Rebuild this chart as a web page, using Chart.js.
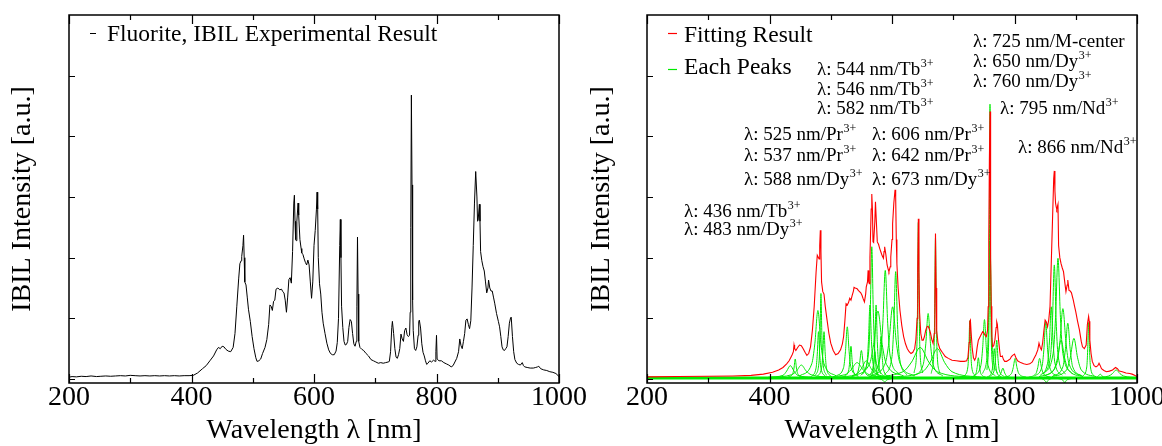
<!DOCTYPE html>
<html>
<head>
<meta charset="utf-8">
<script src="https://cdn.jsdelivr.net/npm/chart.js@4.4.1/dist/chart.umd.min.js"></script>
<style>
  body { margin: 0; background: #fff; width: 1162px; height: 446px; overflow: hidden; position: relative; }
  canvas { position: absolute; top: 0; display: block; }
  #left { left: 0; }
  #right { left: 581px; }
</style>
</head>
<body>
<canvas id="left" width="620" height="446"></canvas>
<canvas id="right" width="620" height="446"></canvas>
<script>
const SERIF = "'Liberation Serif', 'Times New Roman', serif";

// ---- data (wavelength nm, intensity a.u.) ----
const expWl = [200,205,212,220,228,236,245,252,260,268,276,284,292,300,308,316,324,332,340,348,356,364,372,380,388,396,403,
  410,418,424,430,436,441,444,447,450,453,456,460,464,468,471,474,477,479,481,482,484,485,486,487,489,491,493,496,499,502,505,507,
  510,513,516,520,523,526,528,530,532,534,536,538,541,544,547,549,551,553,555,557,559,561,563,565,567,568,569,570,571,572,574,575,
  577,579,580,582,584,586,588,590,592,594,596,598,600,602,604,605,606,607,609,611,613,615,618,621,624,627,630,633,636,638,640,642,
  643,644,645,647,649,651,653,655,657,659,661,663,665,667,669,670,671,672,673,675,678,681,685,689,693,697,701,705,709,713,717,721,
  723,725,727,728,730,732,734,736,738,740,742,744,746,748,750,752,754,756,757,758,759,760,761,762,764,766,768,770,771,772,774,776,
  778,780,782,784,786,789,792,795,798,799,800,801,804,808,812,816,820,824,827,830,833,836,838,840,842,844,846,848,850,852,854,856,
  858,860,862,864,866,867,868,870,871,872,874,876,878,880,882,884,885,887,889,891,893,895,898,901,903,905,907,909,911,913,915,917,
  919,921,922,924,926,928,931,934,937,940,942,944,948,953,958,962,965,967,970,975,980,985,990,995,1000];
const expInt = [0.03,0.04,0.035,0.045,0.04,0.05,0.04,0.045,0.05,0.045,0.05,0.055,0.05,0.06,0.055,0.05,0.055,0.05,0.055,0.05,0.055,0.05,0.055,0.05,0.055,0.055,0.06,
  0.1,0.17,0.22,0.3,0.38,0.48,0.52,0.5,0.54,0.53,0.49,0.46,0.45,0.52,0.75,1.2,1.65,1.9,1.95,2.02,2.2,2.37,2.0,1.6,1.55,1.35,1.15,0.95,0.7,0.5,0.35,0.29,
  0.3,0.33,0.42,0.52,0.65,0.9,1.22,1.2,1.13,1.28,1.3,1.48,1.5,1.47,1.48,1.44,1.42,1.3,1.1,1.35,1.64,1.67,1.58,2.1,2.9,3.03,2.6,2.3,2.28,2.6,2.9,2.7,
  2.3,2.15,2.08,2.05,1.98,1.92,1.88,1.96,1.88,1.6,1.33,1.6,2.2,2.45,2.8,3.08,2.8,2.0,1.57,1.4,1.1,0.92,0.75,0.59,0.48,0.42,0.4,0.4,0.46,0.6,1.0,2.2,
  2.63,2.0,1.2,0.85,0.62,0.56,0.57,0.62,0.85,0.98,0.95,0.75,0.58,0.54,0.62,1.2,2.34,1.4,0.62,0.52,0.49,0.47,0.42,0.38,0.32,0.3,0.28,0.26,0.27,0.26,0.27,0.28,
  0.29,0.45,0.85,0.95,0.75,0.5,0.36,0.34,0.4,0.5,0.74,0.66,0.62,0.8,0.84,0.73,0.7,0.72,1.1,2.5,4.68,3.2,1.3,0.8,0.5,0.47,0.53,0.72,0.95,0.97,0.84,0.58,
  0.44,0.38,0.3,0.24,0.26,0.3,0.28,0.31,0.29,0.45,0.72,0.33,0.3,0.3,0.27,0.25,0.23,0.2,0.22,0.28,0.34,0.45,0.66,0.55,0.5,0.62,0.75,0.97,0.99,0.9,0.83,0.96,
  1.5,2.2,2.9,3.42,3.0,2.6,2.62,2.88,2.6,2.1,1.95,1.85,1.78,1.6,1.42,1.5,1.63,1.5,1.45,1.45,1.35,1.25,1.08,0.95,0.86,0.7,0.53,0.48,0.47,0.5,0.53,0.7,
  0.92,1.01,1.02,0.7,0.45,0.32,0.26,0.24,0.23,0.27,0.22,0.2,0.19,0.18,0.18,0.19,0.2,0.21,0.17,0.15,0.14,0.12,0.11,0.09,0.04];

const fitWl = [200,250,300,340,370,390,405,415,422,428,432,435,437,439,440,441,443,446,449,452,455,458,461,464,467,470,473,476,478,480,481,482,483,484,485,
  487,489,491,494,497,500,504,508,512,516,519,521,523,525,527,529,531,533,535,537,538,540,543,545,547,549,551,553,555,557,558,560,561,562,563,564,566,567,568,
  569,570,572,573,574,576,578,580,582,584,586,587,588,590,592,594,595,597,598,600,601,603,605,606,607,608,610,613,616,619,622,625,628,631,634,637,639,641,642,
  643,644,645,647,649,651,653,655,657,659,661,663,665,667,669,670,671,672,673,675,678,682,687,692,698,705,712,718,722,724,726,727,728,729,731,733,735,737,739,
  741,743,745,748,750,752,754,756,757,758,759,760,761,762,763,764,766,768,770,771,772,774,776,777,779,780,782,784,787,790,793,795,797,800,802,805,810,815,820,
  825,829,832,835,838,840,842,844,846,848,850,852,854,856,858,860,862,864,865,866,867,868,869,871,872,874,876,878,880,882,884,886,887,889,891,893,896,898,900,
  903,906,909,911,914,917,919,921,922,923,925,927,930,933,936,938,940,942,946,950,955,960,965,968,971,976,982,988,992,996,1000];
const fitInt = [0.035,0.04,0.045,0.05,0.06,0.08,0.11,0.15,0.19,0.25,0.3,0.36,0.4,0.45,0.56,0.5,0.47,0.52,0.56,0.55,0.5,0.44,0.39,0.42,0.53,0.8,1.2,1.75,2.04,2.0,1.98,2.2,2.45,2.1,1.6,
  1.44,1.4,1.2,0.97,0.75,0.59,0.47,0.4,0.42,0.48,0.58,0.7,0.95,1.24,1.22,1.26,1.33,1.3,1.38,1.45,1.51,1.5,1.49,1.46,1.44,1.42,1.38,1.32,1.27,1.4,1.52,1.6,1.79,1.6,1.57,2.0,2.8,3.05,2.8,
  2.26,2.25,2.6,2.92,2.7,2.26,2.22,2.15,2.09,2.03,1.99,2.1,2.18,2.05,1.88,1.8,1.77,1.85,2.01,2.3,2.56,2.9,3.12,3.0,2.3,1.9,1.5,1.13,0.88,0.7,0.58,0.5,0.45,0.42,0.44,0.5,0.65,1.0,1.8,
  2.64,1.8,1.1,0.75,0.64,0.64,0.7,0.8,0.86,0.87,0.82,0.75,0.65,0.59,0.75,1.3,2.4,1.5,0.8,0.6,0.5,0.44,0.37,0.34,0.31,0.3,0.29,0.29,0.3,0.36,0.6,0.95,0.97,0.8,0.5,0.35,0.31,0.36,0.52,
  0.64,0.68,0.72,0.78,0.76,0.72,0.7,0.8,1.19,2.3,3.6,4.41,2.0,1.2,0.7,0.53,0.55,0.64,0.85,0.94,0.9,0.64,0.45,0.37,0.37,0.38,0.32,0.29,0.29,0.31,0.33,0.37,0.39,0.41,0.36,0.3,0.27,0.25,0.24,
  0.25,0.28,0.34,0.4,0.48,0.59,0.52,0.48,0.6,0.8,0.97,0.94,0.86,0.98,1.2,1.9,2.6,3.3,3.43,3.1,2.9,2.84,2.8,2.88,2.2,2.0,1.9,1.83,1.77,1.6,1.44,1.55,1.63,1.46,1.45,1.42,1.3,1.2,1.11,
  0.95,0.81,0.62,0.53,0.5,0.56,0.9,1.03,0.95,0.64,0.42,0.29,0.22,0.2,0.22,0.26,0.22,0.17,0.14,0.12,0.13,0.15,0.19,0.17,0.13,0.12,0.1,0.09,0.08,0.06,0.04];

// individual fitted peaks, each traced as (wavelength, intensity) points
const peakBase = [[200,0.015],[1000,0.015]];
const eachPeaks = [
  [[398,.03],[422,.06],[428,.13],[434,.22],[440,.13],[446,.06],[470,.03]],
  [[430,.03],[438,.09],[440,.18],[442,.33],[444,.18],[446,.09],[454,.03]],
  [[404,.03],[436,.07],[444,.13],[452,.23],[460,.13],[468,.07],[500,.03]],
  [[449,.05],[469,.25],[474,.58],[479,1.13],[484,.58],[489,.25],[509,.05]],
  [[468,.04],[476,.18],[478,.41],[480,.78],[482,.41],[484,.18],[492,.04]],
  [[475,.06],[481,.3],[482.5,.72],[484,1.41],[485.5,.72],[487,.3],[493,.06]],
  [[477,.04],[485,.18],[487,.41],[489,.78],[491,.41],[493,.18],[501,.04]],
  [[509,.05],[521,.19],[524,.45],[527,.86],[530,.45],[533,.19],[545,.05]],
  [[521,.04],[529,.13],[531,.29],[533,.54],[535,.29],[537,.13],[545,.04]],
  [[483,.03],[523,.07],[533,.15],[543,.27],[553,.15],[563,.07],[603,.03]],
  [[532,.03],[544,.11],[547,.25],[550,.47],[553,.25],[556,.11],[568,.03]],
  [[510,.03],[542,.08],[550,.17],[558,.3],[566,.17],[574,.08],[606,.03]],
  [[549,.06],[559,.26],[561.5,.62],[564,1.22],[566.5,.62],[569,.26],[579,.06]],
  [[552,.08],[562,.46],[564.5,1.1],[567,2.18],[569.5,1.1],[572,.46],[582,.08]],
  [[562,.05],[570,.26],[572,.62],[574,1.22],[576,.62],[578,.26],[586,.05]],
  [[535,.05],[563,.24],[570,.57],[577,1.12],[584,.57],[591,.24],[619,.05]],
  [[570,.04],[578,.16],[580,.37],[582,.7],[584,.37],[586,.16],[594,.04]],
  [[563,.03],[569,.11],[570.5,.24],[572,.45],[573.5,.24],[575,.11],[581,.03]],
  [[565,.07],[581,.38],[585,.91],[589,1.79],[593,.91],[597,.38],[613,.07]],
  [[565,.05],[589,.26],[595,.61],[601,1.19],[607,.61],[613,.26],[637,.05]],
  [[588,.07],[600,.37],[603,.9],[606,1.77],[609,.9],[612,.37],[624,.07]],
  [[636,.1],[640.6,.54],[641.8,1.31],[643,2.58],[644.2,1.31],[645.4,.54],[650,.1]],
  [[562,.03],[618,.12],[632,.28],[646,.52],[660,.28],[674,.12],[730,.03]],
  [[635,.05],[651,.24],[655,.56],[659,1.08],[663,.56],[667,.24],[683,.05]],
  [[664,.09],[668.6,.49],[669.8,1.18],[671,2.33],[672.2,1.18],[673.4,.49],[678,.09]],
  [[602,.03],[650,.12],[662,.27],[674,.5],[686,.27],[698,.12],[746,.03]],
  [[718,.05],[724,.21],[725.5,.5],[727,.96],[728.5,.5],[730,.21],[736,.05]],
  [[729,.03],[737,.09],[739,.19],[741,.35],[743,.19],[745,.09],[753,.03]],
  [[733,.05],[745,.22],[748,.51],[751,.98],[754,.51],[757,.22],[769,.05]],
  [[755,.15],[758.4,.93],[759.2,2.28],[760,4.53],[760.8,2.28],[761.6,.93],[765,.15]],
  [[748,.09],[756,.47],[758,1.15],[760,2.26],[762,1.15],[764,.47],[772,.09]],
  [[755,.03],[763,.12],[765,.27],[767,.5],[769,.27],[771,.12],[779,.03]],
  [[759,.04],[767,.15],[769,.34],[771,.64],[773,.34],[775,.15],[783,.04]],
  [[763,.02],[775,.05],[778,.1],[781,.18],[784,.1],[787,.05],[799,.02]],
  [[783,.03],[795,.09],[798,.19],[801,.34],[804,.19],[807,.09],[819,.03]],
  [[823,.03],[835,.09],[838,.19],[841,.34],[844,.19],[847,.09],[859,.03]],
  [[833,.05],[845,.21],[848,.49],[851,.94],[854,.49],[857,.21],[869,.05]],
  [[842,.06],[854,.26],[857,.61],[860,1.19],[863,.61],[866,.26],[878,.06]],
  [[847,.08],[859,.4],[862,.96],[865,1.88],[868,.96],[871,.4],[883,.08]],
  [[847,.08],[863,.42],[867,1.01],[871,1.99],[875,1.01],[879,.42],[895,.08]],
  [[840,.04],[864,.15],[870,.34],[876,.64],[882,.34],[888,.15],[912,.04]],
  [[849,.05],[869,.25],[874,.6],[879,1.16],[884,.6],[889,.25],[909,.05]],
  [[863,.05],[879,.2],[883,.48],[887,.92],[891,.48],[895,.2],[911,.05]],
  [[861,.04],[885,.15],[891,.35],[897,.67],[903,.35],[909,.15],[933,.04]],
  [[912,.05],[918,.2],[919.5,.48],[921,.93],[922.5,.48],[924,.2],[930,.05]],
  [[930,.02],[954,.05],[960,.09],[966,.15],[972,.09],[978,.05],[1002,.02]],
  [[922,.02],[934,.03],[937,.05],[940,.08],[943,.05],[946,.03],[958,.02]],
  [[870,.01],[879,-.02],[880.5,-.04],[882,-.07],[883.5,-.04],[885,-.02],[894,.01]],
  [[844,.01],[850,-.03],[852,-.06],[854,-.03],[860,.01]],
  [[576,.01],[585,-.02],[588,-.05],[591,-.02],[600,.01]]
];

const xTicks = [200,300,400,500,600,700,800,900,1000];
const yTicks = [0,1,2,3,4,5];

// peak labels on the right panel
const noteText = ['λ: 725 nm/M-center','λ: 650 nm/Dy','λ: 760 nm/Dy','λ: 795 nm/Nd','λ: 866 nm/Nd',
  'λ: 544 nm/Tb','λ: 546 nm/Tb','λ: 582 nm/Tb','λ: 525 nm/Pr','λ: 537 nm/Pr','λ: 588 nm/Dy',
  'λ: 606 nm/Pr','λ: 642 nm/Pr','λ: 673 nm/Dy','λ: 436 nm/Tb','λ: 483 nm/Dy'];
const noteSup = ['','3+','3+','3+','3+','3+','3+','3+','3+','3+','3+','3+','3+','3+','3+','3+'];
const notePos = [[392,42],[392,62],[392,82],[419,109],[437,148],[236,70],[236,90],[236,109],
  [163,135],[163,156],[163,180],[291,135],[291,156],[291,180],[103,212],[103,230]];

const RED = 'rgb(255,0,0)';
const GREEN = 'rgb(0,235,0)';

function toXY(wl, vals) {
  return wl.map((x, i) => ({ x: x, y: vals[i] }));
}

const frame = {
  id: 'frame',
  afterDatasetsDraw(chart) {
    const { ctx, chartArea: a, scales: { x, y } } = chart;
    ctx.save();
    ctx.strokeStyle = '#000';
    ctx.lineWidth = 1.5;
    ctx.strokeRect(a.left, a.top, a.right - a.left, a.bottom - a.top);
    ctx.lineWidth = 1.2;
    ctx.beginPath();
    xTicks.forEach(v => {
      const px = Math.round(x.getPixelForValue(v)) + 0.5;
      const len = v % 200 === 0 ? 9 : 5;
      ctx.moveTo(px, a.bottom); ctx.lineTo(px, a.bottom - len);
      ctx.moveTo(px, a.top); ctx.lineTo(px, a.top + len);
    });
    yTicks.forEach(v => {
      const py = Math.round(y.getPixelForValue(v)) + 0.5;
      ctx.moveTo(a.left, py); ctx.lineTo(a.left + 6, py);
    });
    ctx.stroke();
    ctx.restore();
  }
};

function drawNote(ctx, text, sup, x, y) {
  ctx.font = '19px ' + SERIF;
  ctx.textBaseline = 'middle';
  ctx.fillText(text, x, y);
  if (sup) {
    const w = ctx.measureText(text).width;
    ctx.font = '12px ' + SERIF;
    ctx.fillText(sup, x + w + 0.5, y - 6);
  }
}

const leftText = {
  id: 'leftText',
  afterDraw(chart) {
    const ctx = chart.ctx;
    ctx.save();
    ctx.strokeStyle = '#000';
    ctx.lineWidth = 1;
    ctx.beginPath(); ctx.moveTo(90, 33.5); ctx.lineTo(96, 33.5); ctx.stroke();
    ctx.fillStyle = '#000';
    ctx.font = '23.5px ' + SERIF;
    ctx.textBaseline = 'middle';
    ctx.fillText('Fluorite, IBIL Experimental Result', 107, 35);
    ctx.restore();
  }
};

const rightText = {
  id: 'rightText',
  afterDraw(chart) {
    const ctx = chart.ctx;
    ctx.save();
    ctx.lineWidth = 1.2;
    ctx.strokeStyle = RED;
    ctx.beginPath(); ctx.moveTo(87, 33.5); ctx.lineTo(96, 33.5); ctx.stroke();
    ctx.strokeStyle = GREEN;
    ctx.beginPath(); ctx.moveTo(87, 69.5); ctx.lineTo(96, 69.5); ctx.stroke();
    ctx.fillStyle = '#000';
    ctx.font = '23.5px ' + SERIF;
    ctx.textBaseline = 'middle';
    ctx.fillText('Fitting Result', 103, 36);
    ctx.fillText('Each Peaks', 103, 68);
    noteText.forEach((t, i) => drawNote(ctx, t, noteSup[i], notePos[i][0], notePos[i][1]));
    ctx.restore();
  }
};

function panelOptions(axisWidth, titlePad, padRight) {
  return {
    responsive: false,
    animation: false,
    devicePixelRatio: 1,
    layout: { padding: { top: 15, right: padRight, bottom: 0, left: 0 } },
    plugins: { legend: { display: false }, tooltip: { enabled: false } },
    elements: { point: { radius: 0 }, line: { borderWidth: 1 } },
    scales: {
      x: {
        type: 'linear', min: 200, max: 1000,
        ticks: {
          stepSize: 100, autoSkip: false, maxRotation: 0, padding: 1, color: '#000',
          font: { family: SERIF, size: 28, lineHeight: 1 },
          callback: v => (v % 200 === 0 ? String(v) : '')
        },
        grid: { display: false, drawTicks: false },
        border: { display: false },
        title: {
          display: true, text: 'Wavelength λ [nm]', color: '#000',
          font: { family: SERIF, size: 28, lineHeight: 1 },
          padding: { top: 0, bottom: 1 }
        },
        afterFit: s => { s.height = 63; }
      },
      y: {
        type: 'linear', min: -0.066, max: 6,
        ticks: { display: false },
        grid: { display: false, drawTicks: false },
        border: { display: false },
        title: {
          display: true, text: 'IBIL Intensity [a.u.]', color: '#000',
          font: { family: SERIF, size: 28, lineHeight: 1 },
          padding: { top: titlePad, bottom: 0 }
        },
        afterFit: s => { s.width = axisWidth; }
      }
    }
  };
}

new Chart(document.getElementById('left'), {
  type: 'line',
  data: {
    datasets: [{
      label: 'Fluorite, IBIL Experimental Result',
      data: toXY(expWl, expInt),
      borderColor: '#000',
      borderWidth: 1
    }]
  },
  options: panelOptions(69, 9, 61),
  plugins: [frame, leftText]
});

let rightSets = [{
  label: 'Fitting Result',
  data: toXY(fitWl, fitInt),
  borderColor: RED,
  borderWidth: 1.1
}];
eachPeaks.forEach((pk, i) => {
  rightSets.push({
    label: 'Each Peaks ' + (i + 1),
    data: pk.map(p => ({ x: p[0], y: p[1] })),
    borderColor: GREEN,
    borderWidth: 1,
    cubicInterpolationMode: 'monotone'
  });
});
rightSets.push({
  label: 'Each Peaks base',
  data: peakBase.map(p => ({ x: p[0], y: p[1] })),
  borderColor: GREEN,
  borderWidth: 3
});

new Chart(document.getElementById('right'), {
  type: 'line',
  data: { datasets: rightSets },
  options: panelOptions(66, 7, 64),
  plugins: [frame, rightText]
});
</script>
</body>
</html>
